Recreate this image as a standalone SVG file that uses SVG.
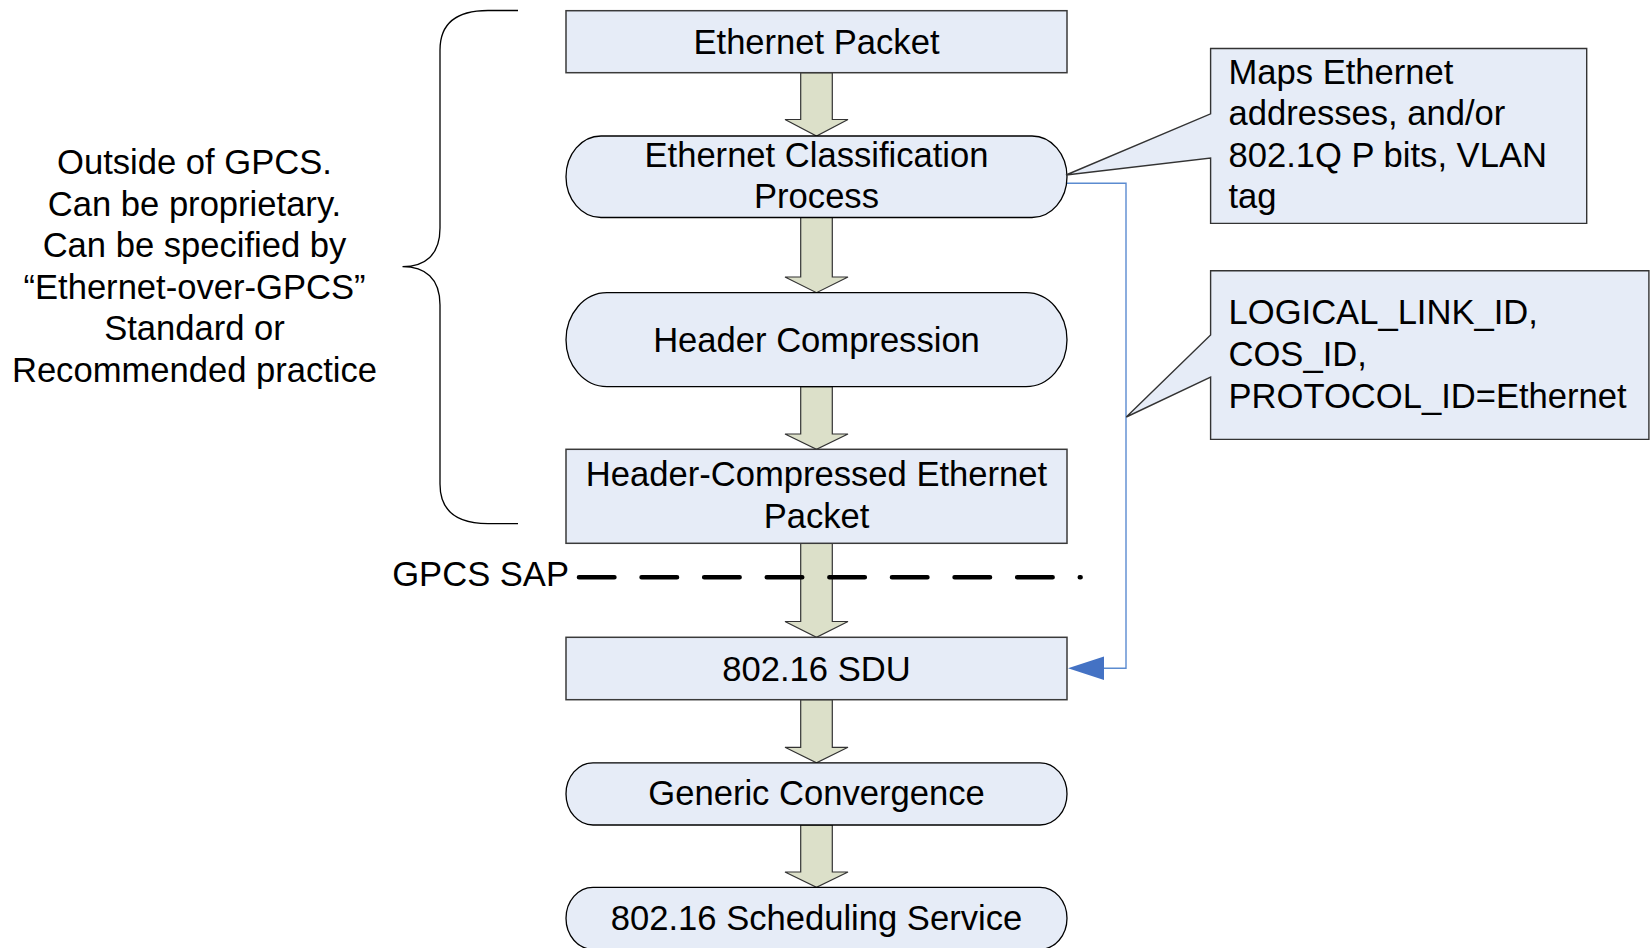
<svg xmlns="http://www.w3.org/2000/svg" width="1652" height="948" viewBox="0 0 1652 948">
<style>
text{font-family:"Liberation Sans",Arial,sans-serif;font-size:34.6px;fill:#000}
.c{text-anchor:middle}
.box{fill:#E6ECF7;stroke:#3a3a3a;stroke-width:1.5}
.term{fill:#E6ECF7;stroke:#000;stroke-width:1.3}
.blk{fill:#DCE0C9;stroke:#333;stroke-width:1.2}
.call{fill:#E6ECF7;stroke:#333;stroke-width:1.4}
</style>
<rect width="1652" height="948" fill="#fff"/>

<g id="brace">
<path d="M518,10.5 H488 C455,10.5 440,25 440,50 V228 C440,255 425,266.6 402.5,266.6 C425,266.6 440,278 440,305 V484 C440,509 455,523.6 488,523.6 H518" fill="none" stroke="#000" stroke-width="1.3"/>
</g>

<g id="outside-note">
<text class="c" x="194.5" y="174">Outside of GPCS.</text>
<text class="c" x="194.5" y="215.5">Can be proprietary.</text>
<text class="c" x="194.5" y="257">Can be specified by</text>
<text class="c" x="194.5" y="298.5">“Ethernet-over-GPCS”</text>
<text class="c" x="194.5" y="340">Standard or</text>
<text class="c" x="194.5" y="381.5">Recommended practice</text>
</g>

<g id="connectors">
<polygon class="blk" points="800.7,72.7 832.3,72.7 832.3,119.5 848,119.5 816.5,136 785,119.5 800.7,119.5"/>
<polygon class="blk" points="800.7,217.5 832.3,217.5 832.3,277 848,277 816.5,292.7 785,277 800.7,277"/>
<polygon class="blk" points="800.7,386.7 832.3,386.7 832.3,434 848,434 816.5,449.3 785,434 800.7,434"/>
<polygon class="blk" points="800.7,543.3 832.3,543.3 832.3,621.5 848,621.5 816.5,637.3 785,621.5 800.7,621.5"/>
<polygon class="blk" points="800.7,699.7 832.3,699.7 832.3,747.3 848,747.3 816.5,762.8 785,747.3 800.7,747.3"/>
<polygon class="blk" points="800.7,825 832.3,825 832.3,872 848,872 816.5,887.3 785,872 800.7,872"/>
<polyline points="1064,183.3 1126,183.3 1126,668.3 1104,668.3" fill="none" stroke="#5B8BD0" stroke-width="1.4"/>
<path d="M1068,668.3 L1104,656.5 L1104,680 Z" fill="#4472C4"/>
</g>

<g id="gpcs-sap">
<line x1="579" y1="577.2" x2="1080.6" y2="577.2" stroke="#000" stroke-width="4.6" stroke-linecap="round" stroke-dasharray="35.4 27.2"/>
<text x="569" y="586" text-anchor="end">GPCS SAP</text>
</g>

<g id="ethernet-packet">
<rect class="box" x="566" y="10.7" width="501" height="62"/>
<text class="c" x="816.5" y="54">Ethernet Packet</text>
</g>

<g id="classification">
<rect class="term" x="566" y="136" width="501" height="81.5" rx="35" ry="40.75"/>
<text class="c" x="816.5" y="166.5">Ethernet Classification</text>
<text class="c" x="816.5" y="207.5">Process</text>
</g>

<g id="header-compression">
<rect class="term" x="566" y="292.7" width="501" height="94" rx="41" ry="47"/>
<text class="c" x="816.5" y="351.5">Header Compression</text>
</g>

<g id="hc-packet">
<rect class="box" x="566" y="449.3" width="501" height="94"/>
<text class="c" x="816.5" y="485.5">Header-Compressed Ethernet</text>
<text class="c" x="816.5" y="527.5">Packet</text>
</g>

<g id="sdu">
<rect class="box" x="566" y="637.3" width="501" height="62.4"/>
<text class="c" x="816.5" y="680.5">802.16 SDU</text>
</g>

<g id="generic-convergence">
<rect class="term" x="566" y="762.8" width="501" height="62.2" rx="27" ry="31.1"/>
<text class="c" x="816.5" y="805">Generic Convergence</text>
</g>

<g id="scheduling">
<rect class="term" x="566" y="887.3" width="501" height="62" rx="27" ry="31"/>
<text class="c" x="816.5" y="930">802.16 Scheduling Service</text>
</g>

<g id="callout-maps">
<path class="call" d="M1210.6,48.5 H1586.7 V223.4 H1210.6 V158 L1066,175 L1210.6,113.8 Z"/>
<text x="1228.5" y="84.3">Maps Ethernet</text>
<text x="1228.5" y="125.4">addresses, and/or</text>
<text x="1228.5" y="166.5">802.1Q P bits, VLAN</text>
<text x="1228.5" y="207.6">tag</text>
</g>

<g id="callout-ids">
<path class="call" d="M1210.6,270.8 H1648.9 V439.4 H1210.6 V377 L1126.3,417 L1210.6,335 Z"/>
<text x="1228.5" y="323.5">LOGICAL_LINK_ID,</text>
<text x="1228.5" y="365.5">COS_ID,</text>
<text x="1228.5" y="407.5">PROTOCOL_ID=Ethernet</text>
</g>
</svg>
